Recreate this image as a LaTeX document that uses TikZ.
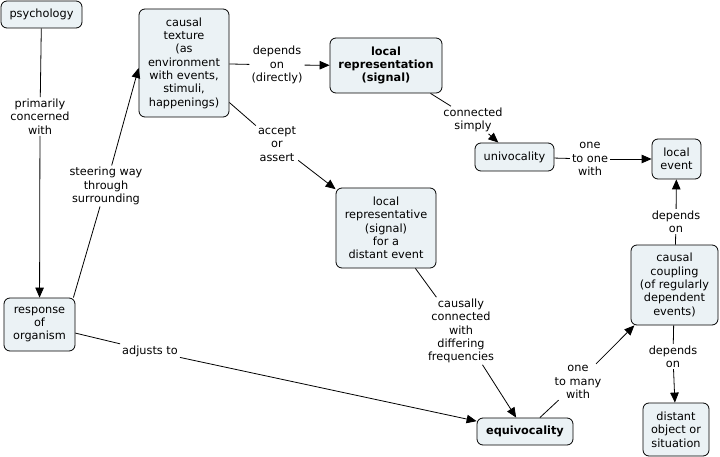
\documentclass[tikz,border=0pt]{standalone}
\usepackage{fontspec}
\setmainfont{DejaVu Sans}
\usetikzlibrary{arrows.meta}
\definecolor{nodefill}{RGB}{235,242,245}
\begin{document}
\begin{tikzpicture}[x=1pt,y=-1pt,
  concept/.style={draw=black, line width=0.8pt, fill=nodefill, rounded corners=6pt, align=center, inner sep=0pt, font=\fontsize{11.3}{13.3}\selectfont},
  lbl/.style={align=center, inner xsep=2pt, inner ysep=1.5pt, font=\fontsize{11.3}{13.3}\selectfont},
  link/.style={line width=0.8pt},
  arr/.style={line width=0.8pt, -{Triangle[length=10pt,width=8.5pt]}}
]
\useasboundingbox[fill=white] (0,0) rectangle (720,457);

% concepts
\node[concept, minimum width=81pt, minimum height=27pt] (psy) at (41.5,14.5) {psychology};
\node[concept, minimum width=90pt, minimum height=108pt] (ct) at (184,63) {causal\\texture\\(as\\environment\\with events,\\stimuli,\\happenings)};
\node[concept, minimum width=112pt, minimum height=55pt] (lr) at (386,65.5) {\bfseries local\\\bfseries representation\\\bfseries (signal)};
\node[concept, minimum width=79pt, minimum height=28pt] (uni) at (514.5,157) {univocality};
\node[concept, minimum width=49pt, minimum height=40pt] (le) at (676.5,159) {local\\event};
\node[concept, minimum width=100pt, minimum height=80pt] (lrep) at (386,228) {local\\representative\\(signal)\\for a\\distant event};
\node[concept, minimum width=71pt, minimum height=53pt] (resp) at (39.5,324.5) {response\\of\\organism};
\node[concept, minimum width=96pt, minimum height=27pt] (eq) at (525,431.5) {\bfseries equivocality};
\node[concept, minimum width=87pt, minimum height=80pt] (cc) at (674.5,285) {causal\\coupling\\(of regularly\\dependent\\events)};
\node[concept, minimum width=66pt, minimum height=53pt] (dos) at (676,429.5) {distant\\object or\\situation};

% link labels
\node[lbl] (l1) at (40,116.5) {primarily\\concerned\\with};
\node[lbl] (l2) at (106,186) {steering way\\through\\surrounding};
\node[lbl] (l3) at (277,65) {depends\\on\\(directly)};
\node[lbl] (l4) at (473,120) {connected\\simply};
\node[lbl] (l5) at (590,159) {one\\to one\\with};
\node[lbl] (l6) at (277,144) {accept\\or\\assert};
\node[lbl] (l7) at (461,331) {causally\\connected\\with\\differing\\frequencies};
\node[lbl] (l8) at (150,351) {adjusts to};
\node[lbl] (l9) at (578,382) {one\\to many\\with};
\node[lbl] (l10) at (676,221.5) {depends\\on};
\node[lbl] (l11) at (673,356.5) {depends\\on};

% connectors
\draw[link] (psy) -- (l1);
\draw[arr] (l1) -- (resp);
\draw[link] ([xshift=-2pt]resp.north east) -- (l2);
\draw[arr] (l2) -- ([yshift=-5pt]ct.west);
\draw[link] (ct) -- (l3);
\draw[arr] (l3) -- (lr);
\draw[link] (lr) -- (l4);
\draw[arr] (l4) -- (uni);
\draw[link] (uni) -- (l5);
\draw[arr] (l5) -- (le);
\draw[link] (ct) -- (l6);
\draw[arr] (l6) -- (lrep);
\draw[link] (lrep) -- (l7);
\draw[arr] (l7) -- (eq);
\draw[link] (resp) -- (l8);
\draw[arr] (l8) -- (eq);
\draw[link] (eq) -- (l9);
\draw[arr] (l9) -- (cc);
\draw[link] (cc) -- (l10);
\draw[arr] (l10) -- (le);
\draw[link] (cc) -- (l11);
\draw[arr] (l11) -- (dos);
\end{tikzpicture}
\end{document}
